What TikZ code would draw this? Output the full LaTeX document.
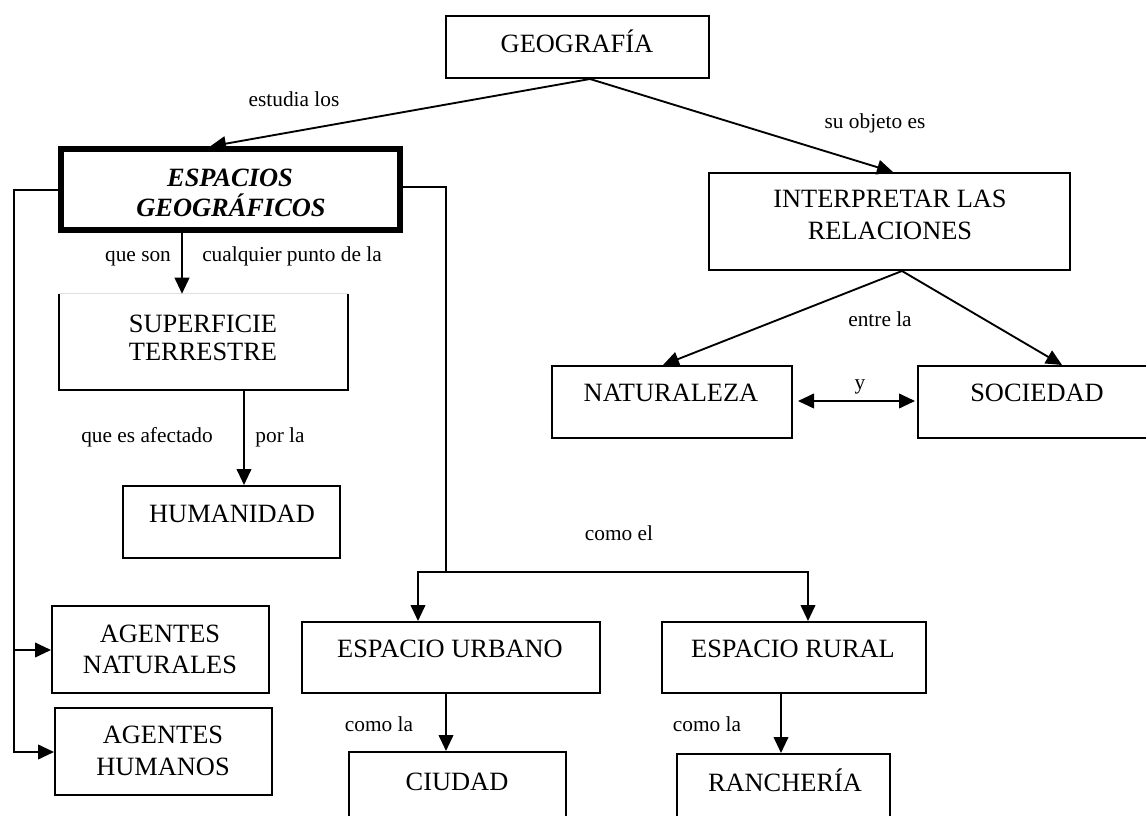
\documentclass[tikz,border=0pt]{standalone}
\usepackage{fontspec}
\setmainfont{Liberation Serif}
\usetikzlibrary{arrows.meta,calc,fit}
\begin{document}
\begin{tikzpicture}[x=0.75pt,y=-0.75pt,
  box/.style={draw,line width=1.5pt,inner sep=0pt,rectangle},
  thickbox/.style={draw,line width=3.8pt,inner sep=0pt,rectangle},
  nobox/.style={draw=none,inner sep=0pt,rectangle},
  txt/.style={anchor=base,inner sep=0pt,font=\fontsize{19.8}{24}\selectfont},
  lbl/.style={anchor=base,inner sep=0pt,font=\fontsize{16}{19}\selectfont},
  conn/.style={line width=1.4pt},
  arr/.style={conn,-{Triangle[length=12pt,width=11pt]}},
  darr/.style={conn,{Triangle[length=12pt,width=11pt]}-{Triangle[length=12pt,width=11pt]}}]
\useasboundingbox (0,0) rectangle (1146,816);
% boxes
\node[box,fit={(446,16)(709,78)}] (geo) {};
\node[thickbox,fit={(61,149)(400,230)}] (esp) {};
\node[nobox,fit={(59,294)(348,390)}] (sup) {};
\node[box,fit={(123,486)(340,558)}] (hum) {};
\node[box,fit={(52,606)(269,693)}] (agn) {};
\node[box,fit={(55,708)(272,795)}] (agh) {};
\node[box,fit={(302,622)(600,693)}] (urb) {};
\node[box,fit={(662,622)(926,693)}] (rur) {};
\node[box,fit={(349,752)(566,840)}] (ciu) {};
\node[box,fit={(677,754)(890,840)}] (ran) {};
\node[box,fit={(709,173)(1070,270)}] (int) {};
\node[box,fit={(552,366)(792,438)}] (nat) {};
\node[box,fit={(918,366)(1170,438)}] (soc) {};
% superficie box: faint top edge
\draw[line width=1.5pt] (sup.north west) -- (sup.south west) -- (sup.south east) -- (sup.north east);
\draw[line width=1pt,black!12] (sup.north west) -- (sup.north east);
% box texts
\node[txt] (geo-t) at (577,53) {GEOGRAFÍA};
\node[txt,font=\fontsize{19.8}{24}\selectfont\bfseries\itshape] (esp-t1) at (230,187) {ESPACIOS};
\node[txt,font=\fontsize{19.8}{24}\selectfont\bfseries\itshape] (esp-t2) at (231,217) {GEOGRÁFICOS};
\node[txt] (sup-t1) at (203,333) {SUPERFICIE};
\node[txt] (sup-t2) at (203,361) {TERRESTRE};
\node[txt] (hum-t) at (232,522) {HUMANIDAD};
\node[txt] (agn-t1) at (160,642) {AGENTES};
\node[txt] (agn-t2) at (160,673) {NATURALES};
\node[txt] (agh-t1) at (163,743) {AGENTES};
\node[txt] (agh-t2) at (163,775) {HUMANOS};
\node[txt] (urb-t) at (450,657) {ESPACIO URBANO};
\node[txt] (rur-t) at (793,657) {ESPACIO RURAL};
\node[txt] (ciu-t) at (457,790) {CIUDAD};
\node[txt] (ran-t) at (785,791) {RANCHERÍA};
\node[txt] (int-t1) at (890,208) {INTERPRETAR LAS};
\node[txt] (int-t2) at (890,240) {RELACIONES};
\node[txt] (nat-t) at (671,402) {NATURALEZA};
\node[txt] (soc-t) at (1037,402) {SOCIEDAD};
% labels
\node[lbl] (l1) at (294,107) {estudia los};
\node[lbl] (l2) at (875,129) {su objeto es};
\node[lbl] (l3) at (138,262) {que son};
\node[lbl] (l4) at (292,262) {cualquier punto de la};
\node[lbl] (l5) at (147,443) {que es afectado};
\node[lbl] (l6) at (280,443) {por la};
\node[lbl] (l7) at (880,327) {entre la};
\node[lbl] (l8) at (860,390) {y};
\node[lbl] (l9) at (619,540) {como el};
\node[lbl] (l10) at (379,731) {como la};
\node[lbl] (l11) at (707,731) {como la};
% junction coordinates
\coordinate (jl) at (14,650);
\coordinate (jr) at (446,572);
% connectors
\draw[arr] ($(geo.south)+(12.5,0)$) -- (210,0 |- esp.north);
\draw[arr] ($(geo.south)+(12.5,0)$) -- (893,0 |- int.north);
\draw[arr] (182,0 |- esp.south) -- (182,0 |- sup.north);
\draw[arr] (244,0 |- sup.south) -- (244,0 |- hum.north);
\draw[arr] (esp.west |- 0,190) -| (14,752) -- (agh.west |- 0,752);
\draw[arr] (jl) -- (agn.west |- jl);
\draw[conn] (esp.east |- 0,187) -| (jr);
\draw[arr] (jr) -| (418,0 |- urb.north);
\draw[arr] (jr) -| (808,0 |- rur.north);
\draw[arr] (446,0 |- urb.south) -- (446,0 |- ciu.north);
\draw[arr] (781,0 |- rur.south) -- (781,0 |- ran.north);
\draw[arr] ($(int.south)+(12.5,0)$) -- (663,0 |- nat.north);
\draw[arr] ($(int.south)+(12.5,0)$) -- (1062,0 |- soc.north);
\draw[darr] ($(nat.east)+(5,-1)$) -- ($(soc.west)+(-2,-1)$);
\end{tikzpicture}
\end{document}
